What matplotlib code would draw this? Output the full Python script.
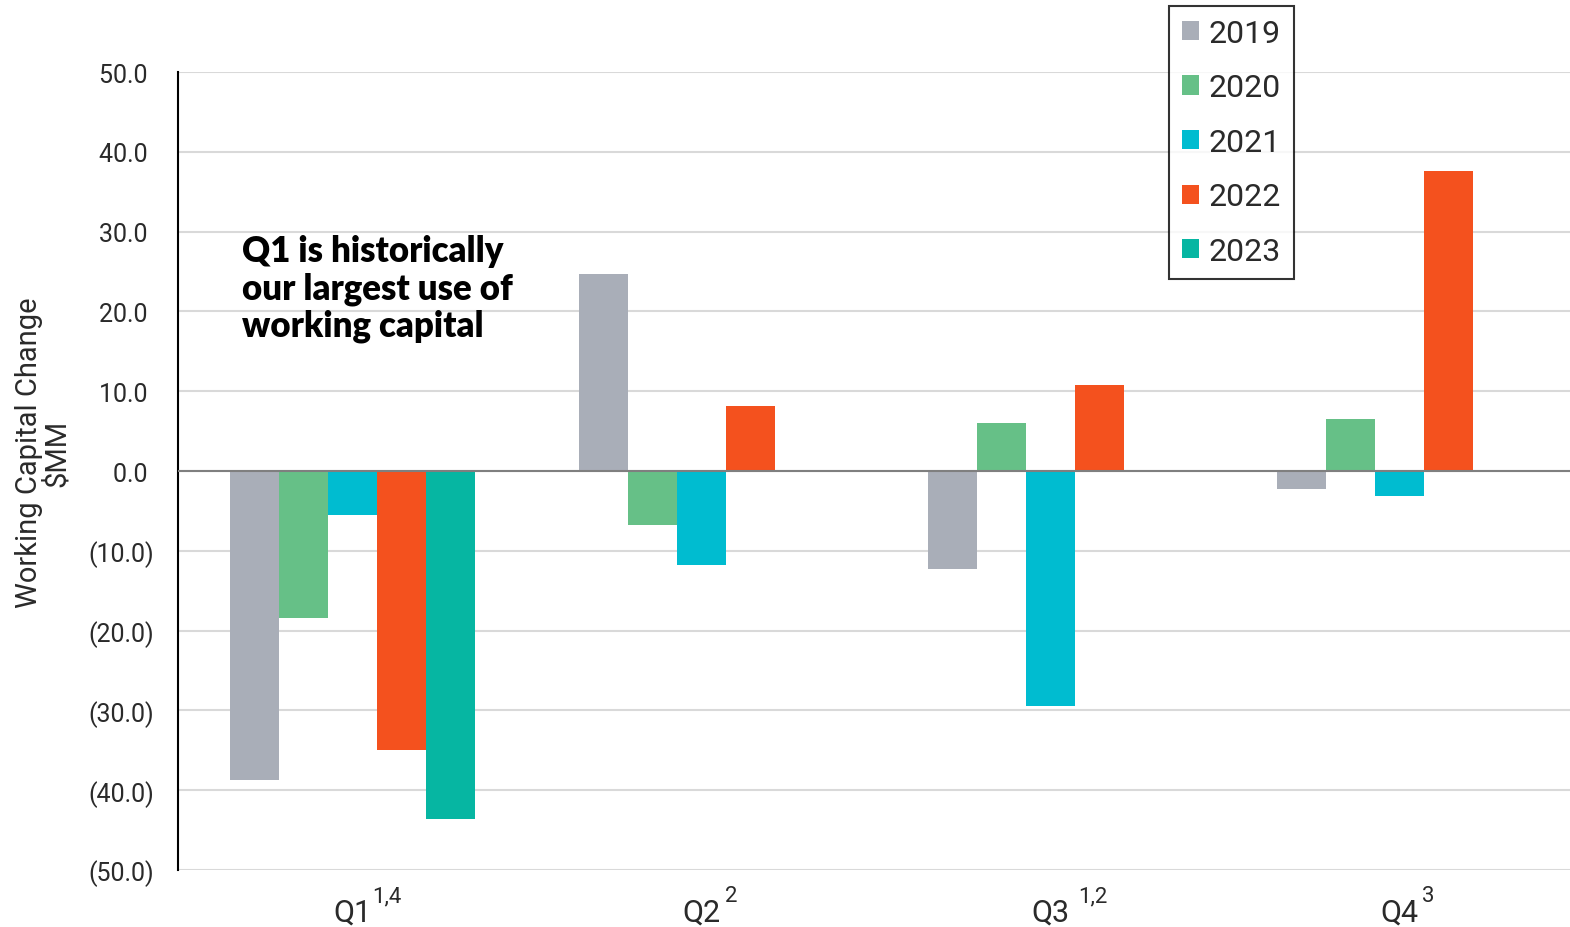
import numpy as np
import matplotlib
matplotlib.use("Agg")
import matplotlib.pyplot as plt

plt.rcParams['font.family'] = ['Roboto', 'DejaVu Sans']

quarters = ["Q1", "Q2", "Q3", "Q4"]
footnotes = ["1,4", "2", "1,2", "3"]
years = ["2019", "2020", "2021", "2022", "2023"]
colors = ["#A9AEB8", "#66C087", "#00BCD0", "#F4511E", "#06B6A2"]

v2019 = [-38.7, 24.7, -12.3, -2.3]
v2020 = [-18.4, -6.8, 6.0, 6.5]
v2021 = [-5.5, -11.8, -29.4, -3.1]
v2022 = [-35.0, 8.1, 10.8, 37.6]
v2023 = [-43.6, np.nan, np.nan, np.nan]
series = [v2019, v2020, v2021, v2022, v2023]

yticks = [50, 40, 30, 20, 10, 0, -10, -20, -30, -40, -50]

txt = "#2a2a2a"

fig = plt.figure(figsize=(15.7, 9.28), dpi=100)
ax = fig.add_axes([178/1570, 1-871/928, 1396/1570, 798/928])

x = np.arange(len(quarters))
w = 0.1404
for i, (vals, c, yr) in enumerate(zip(series, colors, years)):
    ax.bar(x + (i - 2) * w, vals, width=w, color=c, label=yr, zorder=3)

ax.set_xlim(-0.5, 3.5)
ax.set_ylim(-50, 50)
ax.set_yticks(yticks)
def fmt(v):
    return f"({abs(v):.1f})" if v < 0 else f"{v:.1f} "
ax.set_yticklabels([fmt(v) for v in yticks])
ax.yaxis.grid(True, color="#D9D9D9", linewidth=1.5, zorder=0)
ax.axhline(0, color="#7F7F7F", linewidth=1.5, zorder=4)
ax.tick_params(axis='y', length=0, pad=17.5, labelsize=18, labelcolor=txt)
ax.set_xticks(x)
ax.set_xticklabels(quarters)
ax.tick_params(axis='x', length=0, pad=20, labelsize=22, labelcolor=txt)
for s in ["top", "right", "bottom"]:
    ax.spines[s].set_visible(False)
ax.spines["left"].set_color("black")
ax.spines["left"].set_linewidth(1.5)

sup_off = [0.055, 0.068, 0.078, 0.065]
for xi, fn, off in zip(x, footnotes, sup_off):
    ax.annotate(fn, xy=(xi + off, 0), xycoords=('data', 'axes fraction'),
                xytext=(0, -11), textcoords='offset points', ha='left', va='top',
                fontsize=16, color=txt)

fig.text(43/1570, 1-453/928, "Working Capital Change\n$MM", rotation=90, ha='center',
         va='center', fontsize=21, color=txt, linespacing=1.0)

ax.text(0.046, 0.797, "Q1 is historically\nour largest use of\nworking capital",
        transform=ax.transAxes, ha='left', va='top', fontsize=25,
        family=['Lato', 'DejaVu Sans'], fontweight='heavy', linespacing=1.15, zorder=5)

leg = fig.legend(loc='upper left', bbox_to_anchor=(1169/1570, 1-7/928),
                 prop={'size': 23}, labelcolor=txt,
                 frameon=True, fancybox=False, edgecolor='black', handlelength=0.55,
                 handleheight=0.55, handletextpad=0.3, labelspacing=0.8,
                 borderpad=0.4, borderaxespad=0)
leg.get_frame().set_linewidth(1.5)

fig.savefig("out.png", dpi=100)
